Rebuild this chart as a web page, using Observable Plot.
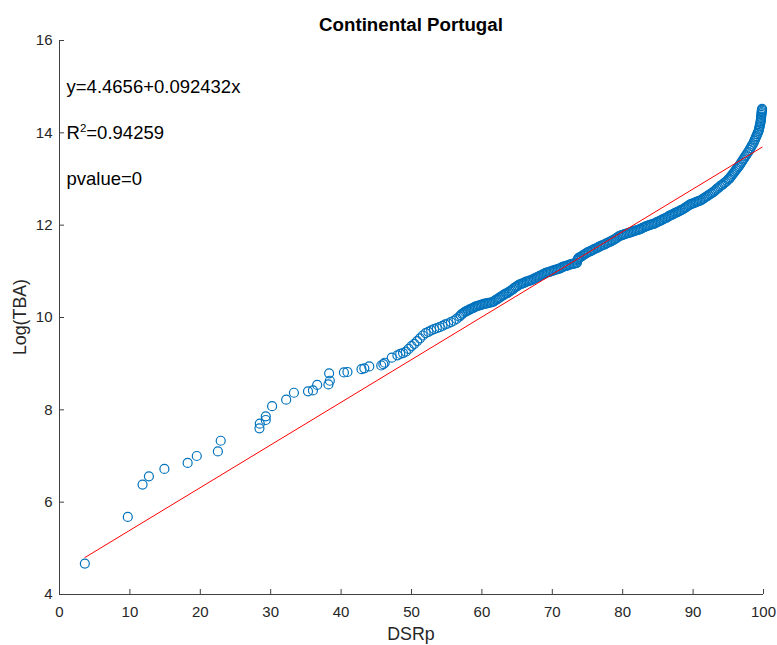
<!DOCTYPE html>
<html>
<head>
<meta charset="utf-8">
<script src="https://cdn.jsdelivr.net/npm/d3@7"></script>
<script src="https://cdn.jsdelivr.net/npm/@observablehq/plot@0.6"></script>
<style>
  body { margin: 0; background: #ffffff; }
  #chart svg { display: block; }
</style>
</head>
<body>
<div id="chart"></div>
<script>
// ---- Data ----
// Sparse lower part of the scatter
const dsrpLow = [
  3.6, 9.7, 11.8, 12.7, 14.9, 18.2, 19.5, 22.5, 22.9, 28.4, 28.45, 29.3, 29.3, 30.2, 32.2, 33.3,
  35.3, 36.0, 36.6, 38.2, 38.4, 38.3, 40.4, 40.9, 42.9, 43.3, 44.0, 45.7, 46.0, 46.2, 47.2, 48.0
];
const logTbaLow = [
  4.67, 5.68, 6.38, 6.56, 6.72, 6.85, 7.00, 7.10, 7.33, 7.60, 7.70, 7.78, 7.86, 8.08, 8.22, 8.37,
  8.40, 8.42, 8.54, 8.55, 8.63, 8.79, 8.81, 8.82, 8.88, 8.90, 8.94, 8.96, 8.99, 9.02, 9.13, 9.18
];
// Dense upper part of the scatter (read along the band)
const dsrpHigh = [
  48.4, 48.8, 49.2, 49.6, 50.0, 50.4, 50.8, 51.2, 51.6, 52.0, 52.4, 52.8, 53.2, 53.6, 54.0, 54.4,
  54.8, 55.2, 55.6, 56.0, 56.4, 56.8, 57.0, 57.2, 57.4, 57.6,
  57.8, 58.0, 58.2, 58.4, 58.6, 58.8, 59.0, 59.2, 59.4, 59.6, 59.8, 60.0, 60.2, 60.4, 60.6, 60.8,
  61.0, 61.2, 61.4, 61.6, 61.8, 62.0, 62.2, 62.4, 62.6, 62.8, 63.0, 63.2, 63.4, 63.6, 63.8, 64.0,
  64.2, 64.4, 64.6, 64.8, 65.0, 65.2, 65.4, 65.6, 65.8, 66.0, 66.2, 66.4, 66.6, 66.8, 67.0, 67.2,
  67.4, 67.6, 67.8, 68.0, 68.2, 68.4, 68.6, 68.8, 69.0, 69.2, 69.4, 69.6, 69.8, 70.0, 70.2, 70.4,
  70.6, 70.8, 71.0, 71.2, 71.4, 71.6, 71.8, 72.0, 72.2, 72.4, 72.6, 72.8, 73.0, 73.2, 73.4, 73.5,
  73.55, 73.6, 73.7, 73.8, 74.0, 74.2, 74.4, 74.6, 74.8, 75.0, 75.2, 75.4, 75.6, 75.8, 76.0, 76.2,
  76.4, 76.6, 76.8, 77.0, 77.2, 77.4, 77.6, 77.8, 78.0, 78.2, 78.4, 78.6, 78.8, 79.0, 79.2, 79.4,
  79.6, 79.8, 80.0, 80.2, 80.4, 80.6, 80.8, 81.0, 81.2, 81.4, 81.6, 81.8, 82.0, 82.2, 82.4, 82.6,
  82.8, 83.0, 83.2, 83.4, 83.6, 83.8, 84.0, 84.2, 84.4, 84.6, 84.8, 85.0, 85.2, 85.4, 85.6, 85.8,
  86.0, 86.2, 86.4, 86.6, 86.8, 87.0, 87.2, 87.4, 87.6, 87.8, 88.0, 88.2, 88.4, 88.6, 88.8, 89.0,
  89.2, 89.4, 89.6, 89.8, 90.0, 90.2, 90.4, 90.6, 90.8, 91.0, 91.2, 91.4, 91.6, 91.8, 92.0, 92.2,
  92.4, 92.6, 92.8, 93.0, 93.2, 93.4, 93.6, 93.8, 94.0, 94.2, 94.4, 94.6, 94.8, 95.0, 95.15, 95.3,
  95.45, 95.6, 95.75, 95.9, 96.05, 96.2, 96.35, 96.5, 96.65, 96.8, 96.95, 97.1, 97.25, 97.4, 97.55, 97.7,
  97.85, 98.0, 98.15, 98.3, 98.45, 98.6, 98.7, 98.8, 98.9, 99.0, 99.1, 99.2, 99.3, 99.35, 99.4, 99.45,
  99.5, 99.55, 99.6, 99.62, 99.65, 99.67, 99.7, 99.72, 99.74, 99.76, 99.78, 99.8
];
const logTbaHigh = [
  9.21, 9.23, 9.26, 9.32, 9.38, 9.43, 9.49, 9.55, 9.61, 9.66, 9.69, 9.72, 9.75, 9.77, 9.79, 9.82,
  9.85, 9.87, 9.90, 9.93, 9.97, 10.02, 10.05, 10.08, 10.10, 10.12,
  10.14, 10.15, 10.17, 10.18, 10.20, 10.21, 10.23, 10.24, 10.25, 10.26, 10.27, 10.28, 10.29, 10.30, 10.30, 10.31,
  10.32, 10.32, 10.33, 10.34, 10.36, 10.38, 10.40, 10.42, 10.44, 10.46, 10.48, 10.50, 10.52, 10.53, 10.55, 10.57,
  10.59, 10.61, 10.64, 10.66, 10.68, 10.70, 10.72, 10.73, 10.74, 10.75, 10.77, 10.78, 10.79, 10.80, 10.81, 10.82,
  10.84, 10.85, 10.87, 10.88, 10.90, 10.91, 10.93, 10.94, 10.96, 10.97, 10.98, 10.99, 11.00, 11.01, 11.02, 11.03,
  11.04, 11.05, 11.06, 11.07, 11.09, 11.10, 11.11, 11.12, 11.13, 11.14, 11.15, 11.16, 11.16, 11.17, 11.18, 11.19,
  11.23, 11.26, 11.28, 11.30, 11.31, 11.33, 11.35, 11.37, 11.39, 11.41, 11.42, 11.44, 11.45, 11.47, 11.48, 11.50,
  11.51, 11.53, 11.54, 11.56, 11.57, 11.58, 11.60, 11.61, 11.63, 11.64, 11.66, 11.67, 11.69, 11.71, 11.73, 11.75,
  11.77, 11.78, 11.79, 11.80, 11.81, 11.82, 11.83, 11.84, 11.85, 11.86, 11.87, 11.88, 11.89, 11.90, 11.91, 11.92,
  11.94, 11.95, 11.97, 11.98, 11.99, 12.00, 12.01, 12.02, 12.03, 12.04, 12.06, 12.07, 12.09, 12.10, 12.12, 12.13,
  12.15, 12.16, 12.18, 12.20, 12.21, 12.23, 12.24, 12.26, 12.27, 12.29, 12.30, 12.32, 12.33, 12.35, 12.37, 12.39,
  12.41, 12.43, 12.45, 12.46, 12.47, 12.48, 12.50, 12.51, 12.52, 12.53, 12.55, 12.57, 12.59, 12.61, 12.63, 12.65,
  12.67, 12.69, 12.71, 12.73, 12.76, 12.79, 12.81, 12.84, 12.86, 12.88, 12.91, 12.93, 12.96, 12.99, 13.01, 13.04,
  13.07, 13.10, 13.13, 13.16, 13.19, 13.22, 13.25, 13.28, 13.31, 13.35, 13.38, 13.42, 13.45, 13.49, 13.52, 13.56,
  13.59, 13.63, 13.67, 13.71, 13.75, 13.79, 13.83, 13.86, 13.90, 13.93, 13.97, 14.00, 14.04, 14.07, 14.11, 14.14,
  14.18, 14.21, 14.25, 14.28, 14.32, 14.35, 14.39, 14.42, 14.45, 14.48, 14.50, 14.52
];
// Fitted line endpoints (y = 4.4656 + 0.092432x)
const fitX = [3.6, 99.8];
const fitY = [4.80, 13.69];
// Tick labels
const xTicks = [0, 10, 20, 30, 40, 50, 60, 70, 80, 90, 100];
const yTicks = [4, 6, 8, 10, 12, 14, 16];
// Annotations
const statText = ["y=4.4656+0.092432x", "R²=0.94259", "pvalue=0"];
const statX = [1, 1, 1];
const statY = [15, 14, 13];
const titleText = "Continental Portugal";
const xLabel = "DSRp";
const yLabel = "Log(TBA)";

// ---- Build tables ----
const points = dsrpLow.map((x, i) => ({x, y: logTbaLow[i]}))
  .concat(dsrpHigh.map((x, i) => ({x, y: logTbaHigh[i]})));
const fit = fitX.map((x, i) => ({x, y: fitY[i]}));
const stats = statText.map((t, i) => ({t, x: statX[i], y: statY[i]}));

const W = 777, H = 645;
const mL = 59, mR = 14, mT = 40, mB = 51;
const plotW = W - mL - mR, plotH = H - mT - mB;
const axisColor = "#404040";
const font = "'Liberation Sans', Arial, Helvetica, sans-serif";

const chart = Plot.plot({
  width: W,
  height: H,
  marginLeft: mL,
  marginRight: mR,
  marginTop: mT,
  marginBottom: mB,
  style: {fontFamily: font, fontSize: "15px", color: "#262626", background: "#ffffff", overflow: "visible"},
  x: {domain: [0, 100]},
  y: {domain: [4, 16]},
  marks: [
    Plot.dot(points, {x: "x", y: "y", r: 4.5, stroke: "#0072BD", strokeWidth: 1.2, fill: "none"}),
    Plot.line(fit, {x: "x", y: "y", stroke: "#FF0000", strokeWidth: 1}),
    Plot.ruleX(xTicks, {stroke: axisColor, strokeWidth: 1, insetTop: plotH - 5}),
    Plot.ruleY(yTicks, {stroke: axisColor, strokeWidth: 1, insetRight: plotW - 5}),
    Plot.ruleX([0], {stroke: axisColor, strokeWidth: 1}),
    Plot.ruleY([4], {stroke: axisColor, strokeWidth: 1}),
    Plot.axisX({ticks: xTicks, tickSize: 0, tickPadding: 12, label: null, fontSize: 15, tickFormat: d => String(d)}),
    Plot.axisY({ticks: yTicks, tickSize: 0, tickPadding: 7, label: null, fontSize: 15, tickFormat: d => String(d)}),
    Plot.text(stats, {x: "x", y: "y", text: "t", textAnchor: "start", fontSize: 18.5, fill: "#000000"})
  ]
});

const svg = d3.select(chart);
// Superscript for R²
svg.selectAll("text").filter(function() { return this.textContent === "R²=0.94259"; })
  .each(function() {
    const t = d3.select(this);
    t.text(null);
    t.append("tspan").text("R");
    t.append("tspan").attr("dy", -7).attr("font-size", 11.5).text("2");
    t.append("tspan").attr("dy", 7).text("=0.94259");
  });

// Title and axis labels
svg.append("text")
  .attr("x", mL + plotW / 2).attr("y", 31)
  .attr("text-anchor", "middle")
  .attr("font-family", font).attr("font-size", 18.7).attr("font-weight", "bold")
  .attr("fill", "#000000")
  .text(titleText);
svg.append("text")
  .attr("x", mL + plotW / 2).attr("y", 640)
  .attr("text-anchor", "middle")
  .attr("font-family", font).attr("font-size", 17.8)
  .attr("fill", "#262626")
  .text(xLabel);
svg.append("text")
  .attr("transform", `translate(26, ${mT + plotH / 2}) rotate(-90)`)
  .attr("text-anchor", "middle")
  .attr("font-family", font).attr("font-size", 17.8)
  .attr("fill", "#262626")
  .text(yLabel);

document.getElementById("chart").appendChild(chart);
</script>
</body>
</html>
